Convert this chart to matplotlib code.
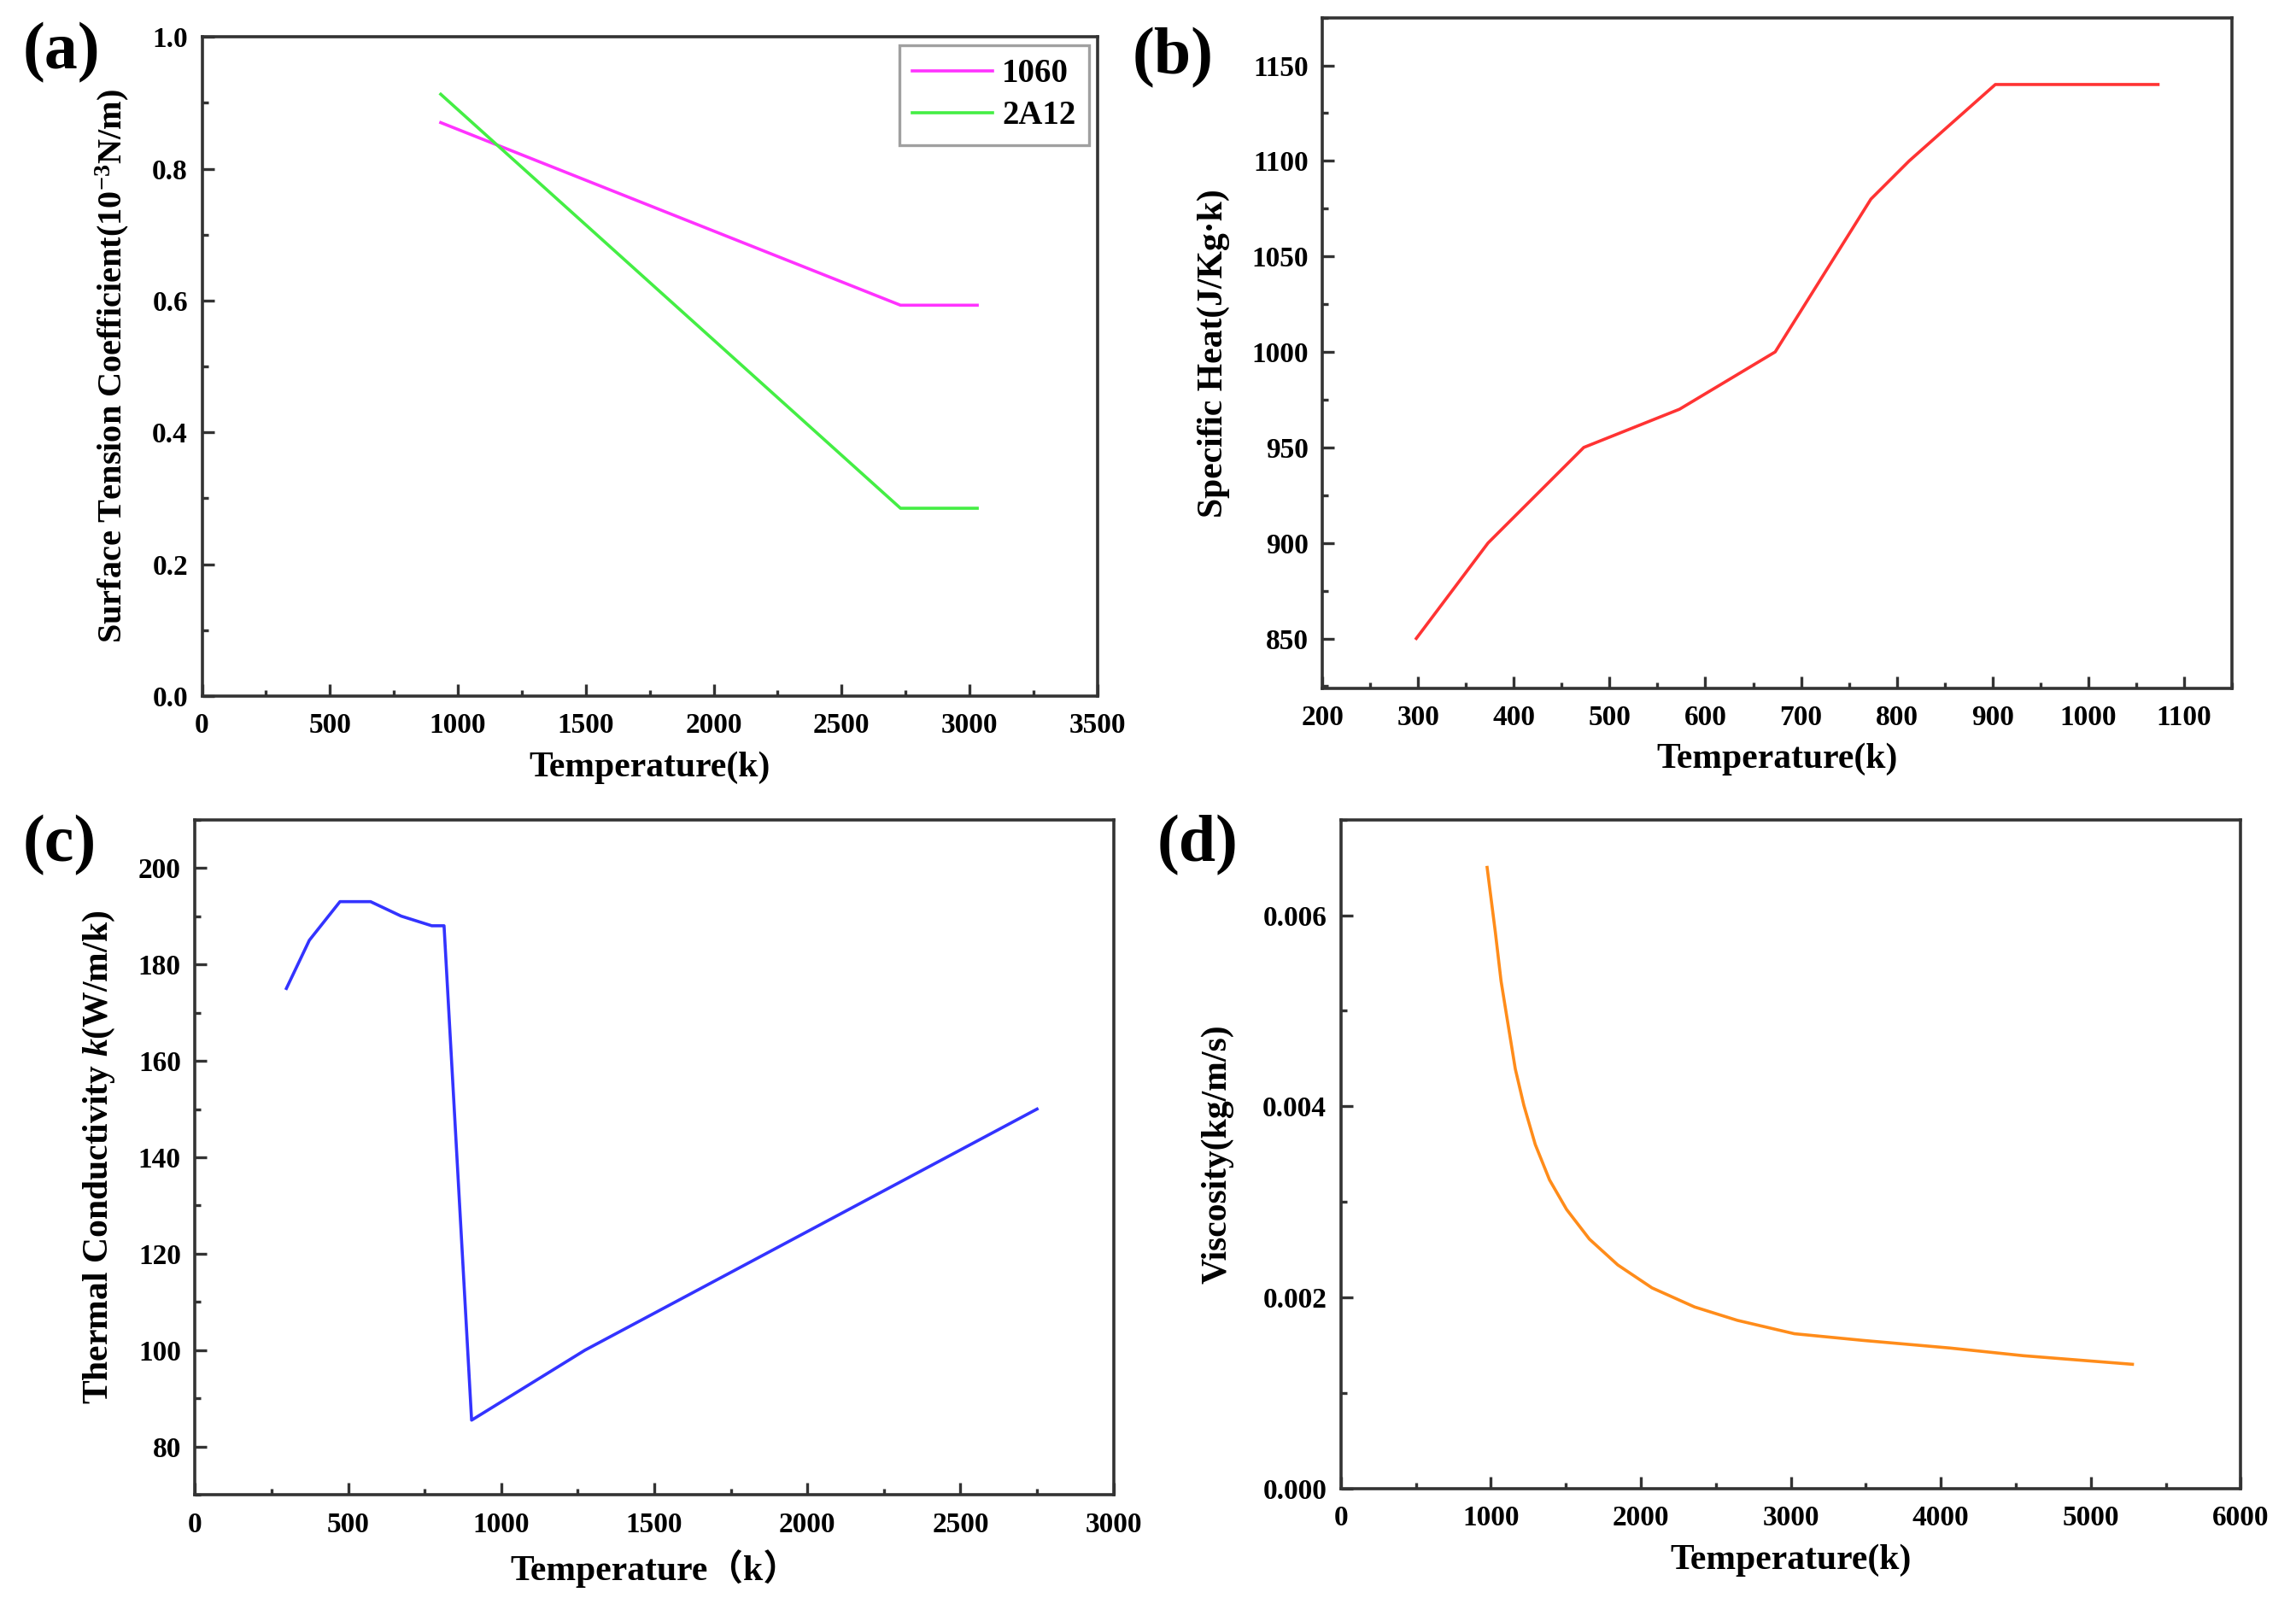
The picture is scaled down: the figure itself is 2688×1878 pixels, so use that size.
import matplotlib
matplotlib.use('Agg')
import matplotlib.pyplot as plt
from matplotlib.ticker import AutoMinorLocator

plt.rcParams['font.family'] = ['Liberation Serif', 'Noto Sans CJK SC']
plt.rcParams['font.weight'] = 'bold'
plt.rcParams['mathtext.fontset'] = 'custom'
plt.rcParams['mathtext.rm'] = 'Liberation Serif:bold'
plt.rcParams['mathtext.bf'] = 'Liberation Serif:bold'
plt.rcParams['mathtext.it'] = 'Liberation Serif:bold:italic'

# (a) surface tension
temp_a = [933, 2730, 3030]
st_1060 = [0.87, 0.593, 0.593]
st_2a12 = [0.913, 0.285, 0.285]

# (b) specific heat
temp_b = [298, 373, 473, 573, 673, 773, 813, 903, 1073]
cp = [850, 900, 950, 970, 1000, 1080, 1100, 1140, 1140]

# (c) thermal conductivity
temp_c = [298, 373, 473, 573, 673, 773, 813, 903, 1273, 2750]
kc = [175, 185, 193, 193, 190, 188, 188, 85.5, 100, 150]

# (d) viscosity
temp_d = [975, 1030, 1068, 1106, 1163, 1220, 1296, 1391, 1505, 1657, 1846,
          2074, 2358, 2643, 3023, 3481, 4063, 4549, 5277]
visc = [0.0065, 0.00582, 0.00531, 0.00494, 0.00439, 0.00401, 0.0036, 0.00323,
        0.00292, 0.00261, 0.00234, 0.0021, 0.00190, 0.00176, 0.00162,
        0.00155, 0.00147, 0.00139, 0.0013]

fig = plt.figure(figsize=(13.44, 9.39), dpi=200)
ax_a = fig.add_axes([0.088, 0.566, 0.390, 0.411])
ax_b = fig.add_axes([0.576, 0.571, 0.396, 0.418])
ax_c = fig.add_axes([0.085, 0.068, 0.400, 0.421])
ax_d = fig.add_axes([0.584, 0.072, 0.392, 0.417])


def style(ax):
    for s in ax.spines.values():
        s.set_linewidth(1.3)
        s.set_color('#333333')
    ax.xaxis.set_minor_locator(AutoMinorLocator(2))
    ax.yaxis.set_minor_locator(AutoMinorLocator(2))
    ax.tick_params(which='both', direction='in', top=False, right=False,
                   labelsize=12, width=1.2, color='#333333')
    ax.tick_params(which='major', length=5)
    ax.tick_params(which='minor', length=2.5)
    ax.tick_params(axis='x', which='both', pad=7)
    ax.tick_params(axis='y', which='both', pad=6)
    for lab in ax.get_xticklabels() + ax.get_yticklabels():
        lab.set_fontweight('bold')
    ax.xaxis.labelpad = 5
    ax.yaxis.labelpad = 9


lw = 1.3
ax_a.plot(temp_a, st_1060, color='#ff33ff', lw=lw, label='1060')
ax_a.plot(temp_a, st_2a12, color='#44ee44', lw=lw, label='2A12')
ax_a.set_xlim(0, 3500)
ax_a.set_ylim(0, 1.0)
ax_a.set_xlabel('Temperature(k)', fontsize=15, fontweight='bold')
ax_a.set_ylabel(r'Surface Tension Coefficient(10$^{-3}$N/m)', fontsize=14.5, fontweight='bold')
leg = ax_a.legend(loc='upper right', fontsize=14, frameon=True, fancybox=False,
                  edgecolor='#888888', handlelength=2.4, handletextpad=0.3,
                  labelspacing=0.3, borderaxespad=0.25)
leg.get_frame().set_linewidth(1.2)
for t in leg.get_texts():
    t.set_fontweight('bold')
style(ax_a)

ax_b.plot(temp_b, cp, color='#ff3333', lw=lw)
ax_b.set_xlim(200, 1150)
ax_b.set_ylim(824, 1175)
ax_b.set_xticks(range(200, 1101, 100))
ax_b.set_yticks(range(850, 1151, 50))
ax_b.set_xlabel('Temperature(k)', fontsize=15, fontweight='bold')
ax_b.set_ylabel('Specific Heat(J/Kg·k)', fontsize=15, fontweight='bold')
style(ax_b)

ax_c.plot(temp_c, kc, color='#3333ff', lw=lw)
ax_c.set_xlim(0, 3000)
ax_c.set_ylim(70, 210)
ax_c.set_yticks(range(80, 201, 20))
ax_c.set_xlabel('Temperature（k）', fontsize=15, fontweight='bold')
ax_c.set_ylabel(r'Thermal Conductivity $k$(W/m/k)', fontsize=15, fontweight='bold')
style(ax_c)

ax_d.plot(temp_d, visc, color='#ff8c1a', lw=lw)
ax_d.set_xlim(0, 6000)
ax_d.set_ylim(0, 0.007)
ax_d.set_yticks([0, 0.002, 0.004, 0.006])
ax_d.set_yticklabels(['0.000', '0.002', '0.004', '0.006'])
ax_d.set_xlabel('Temperature(k)', fontsize=15, fontweight='bold')
ax_d.set_ylabel('Viscosity(kg/m/s)', fontsize=15, fontweight='bold')
style(ax_d)
ax_d.yaxis.labelpad = 12

for x, y, s in [(0.010, 0.967, '(a)'), (0.493, 0.964, '(b)'),
                (0.010, 0.473, '(c)'), (0.504, 0.473, '(d)')]:
    fig.text(x, y, s, fontsize=28, fontweight='bold', va='center', ha='left')

fig.savefig('out.png', dpi=200)
